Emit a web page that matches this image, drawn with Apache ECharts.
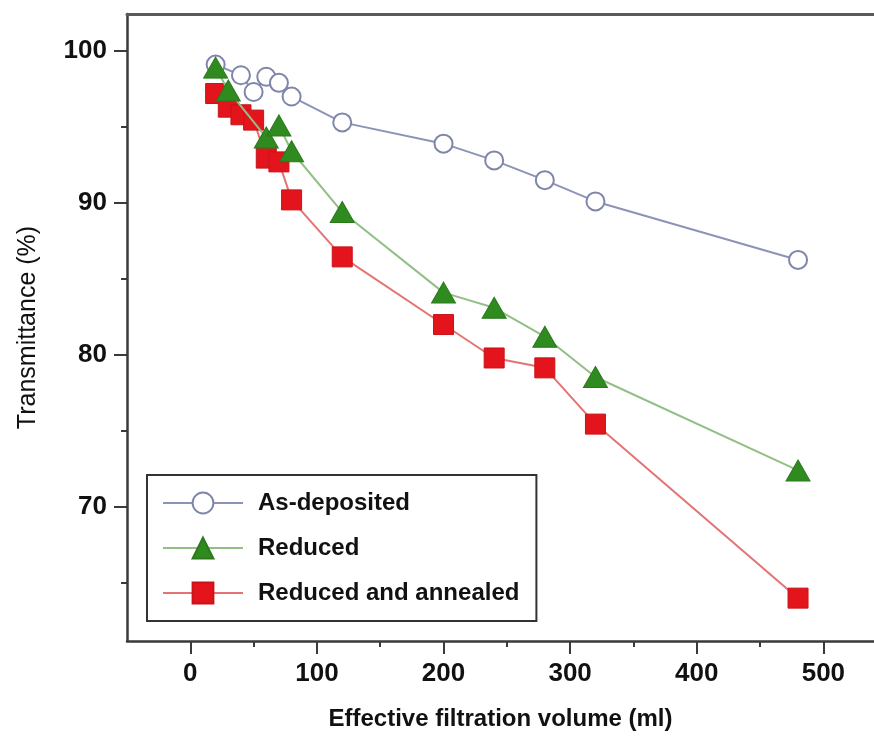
<!DOCTYPE html>
<html>
<head>
<meta charset="utf-8">
<script src="https://cdn.jsdelivr.net/npm/echarts@6/dist/echarts.min.js"></script>
<style>
html,body{margin:0;padding:0;background:#fff;}
#chart{width:874px;height:736px;}
</style>
</head>
<body>
<div id="chart"></div>
<script>
// ---- data ----
const seriesNames = ['As-deposited', 'Reduced', 'Reduced and annealed'];

const asDepositedX = [20, 40, 50, 60, 70, 80, 120, 200, 240, 280, 320, 480];
const asDepositedY = [99.1, 98.4, 97.3, 98.3, 97.9, 97.0, 95.3, 93.9, 92.8, 91.5, 90.1, 86.25];

const reducedX = [20, 30, 60, 70, 80, 120, 200, 240, 280, 320, 480];
const reducedY = [98.9, 97.4, 94.3, 95.1, 93.4, 89.4, 84.1, 83.1, 81.2, 78.55, 72.4];

const annealedX = [20, 30, 40, 50, 60, 70, 80, 120, 200, 240, 280, 320, 480];
const annealedY = [97.2, 96.3, 95.8, 95.45, 92.95, 92.7, 90.2, 86.45, 82.0, 79.8, 79.15, 75.45, 64.0];

const xMajorTicks = [0, 100, 200, 300, 400, 500];
const xMinorTicks = [50, 150, 250, 350, 450];
const yMajorTicks = [70, 80, 90, 100];
const yMinorTicks = [65, 75, 85, 95];

const xRange = [-50, 540];
const yRange = [61.18, 102.43];

const xTitle = 'Effective filtration volume (ml)';
const yTitle = 'Transmittance (%)';

function pairs(xs, ys) { return xs.map((x, i) => [x, ys[i]]); }

const FONT = "'Liberation Sans', Arial, Helvetica, sans-serif";
const AX = '#3a3a3a';

const chart = echarts.init(document.getElementById('chart'));

function xAxisDef(major) {
  return {
    type: 'value', min: xRange[0], max: xRange[1], position: 'bottom',
    name: major ? xTitle : '', nameLocation: 'middle', nameGap: 66,
    nameTextStyle: { fontFamily: FONT, fontWeight: 'bold', fontSize: 24, color: '#111' },
    axisLine: { show: major, onZero: false, lineStyle: { color: AX, width: 2.5 } },
    axisTick: { show: true, inside: false, length: major ? 13 : 6,
      customValues: major ? xMajorTicks : xMinorTicks,
      lineStyle: { color: AX, width: 2 } },
    axisLabel: { show: major, customValues: xMajorTicks, margin: 20,
      fontFamily: FONT, fontWeight: 'bold', fontSize: 26, color: '#111' },
    splitLine: { show: false }
  };
}
function yAxisDef(major) {
  return {
    type: 'value', min: yRange[0], max: yRange[1], position: 'left',
    name: major ? yTitle : '', nameLocation: 'middle', nameGap: 86,
    nameTextStyle: { fontFamily: FONT, fontSize: 25, color: '#111' },
    axisLine: { show: major, onZero: false, lineStyle: { color: AX, width: 2.5 } },
    axisTick: { show: true, inside: false, length: major ? 13 : 6,
      customValues: major ? yMajorTicks : yMinorTicks,
      lineStyle: { color: AX, width: 2 } },
    axisLabel: { show: major, customValues: yMajorTicks, margin: 20,
      fontFamily: FONT, fontWeight: 'bold', fontSize: 26, color: '#111' },
    splitLine: { show: false }
  };
}
// top frame line
const xTopFrame = {
  type: 'value', min: xRange[0], max: xRange[1], position: 'top',
  axisLine: { show: true, onZero: false, lineStyle: { color: '#5a5a5a', width: 3 } },
  axisTick: { show: false }, axisLabel: { show: false }, splitLine: { show: false }
};

chart.setOption({
  animation: false,
  backgroundColor: '#fff',
  grid: { left: 127, top: 14, right: 0, bottom: 95, show: false },
  xAxis: [xAxisDef(true), xAxisDef(false), xTopFrame],
  yAxis: [yAxisDef(true), yAxisDef(false)],
  legend: {
    orient: 'vertical', left: 147, top: 475,
    data: seriesNames,
    padding: [15, 17, 15, 15],
    itemGap: 19, itemWidth: 80, itemHeight: 26,
    borderColor: '#333', borderWidth: 2, borderRadius: 0,
    backgroundColor: '#fff',
    textStyle: { fontFamily: FONT, fontWeight: 'bold', fontSize: 24, color: '#111',
                 lineHeight: 26, padding: [0, 0, 0, 10] }
  },
  series: [
    {
      name: seriesNames[0], type: 'line', z: 3,
      data: pairs(asDepositedX, asDepositedY),
      symbol: 'emptyCircle', symbolSize: 18,
      lineStyle: { color: '#8c93b6', width: 2 },
      itemStyle: { color: '#7e86aa', borderColor: '#7e86aa', borderWidth: 2.5 }
    },
    {
      name: seriesNames[1], type: 'line', z: 4,
      data: pairs(reducedX, reducedY),
      symbol: 'triangle', symbolSize: [24, 21],
      lineStyle: { color: '#92bf86', width: 2 },
      itemStyle: { color: '#2f8a20', borderColor: '#2a7a1c', borderWidth: 1 }
    },
    {
      name: seriesNames[2], type: 'line', z: 2,
      data: pairs(annealedX, annealedY),
      symbol: 'rect', symbolSize: 20,
      lineStyle: { color: '#e47474', width: 2 },
      itemStyle: { color: '#e3141b', borderColor: '#c8141a', borderWidth: 1 }
    }
  ]
});
</script>
</body>
</html>
